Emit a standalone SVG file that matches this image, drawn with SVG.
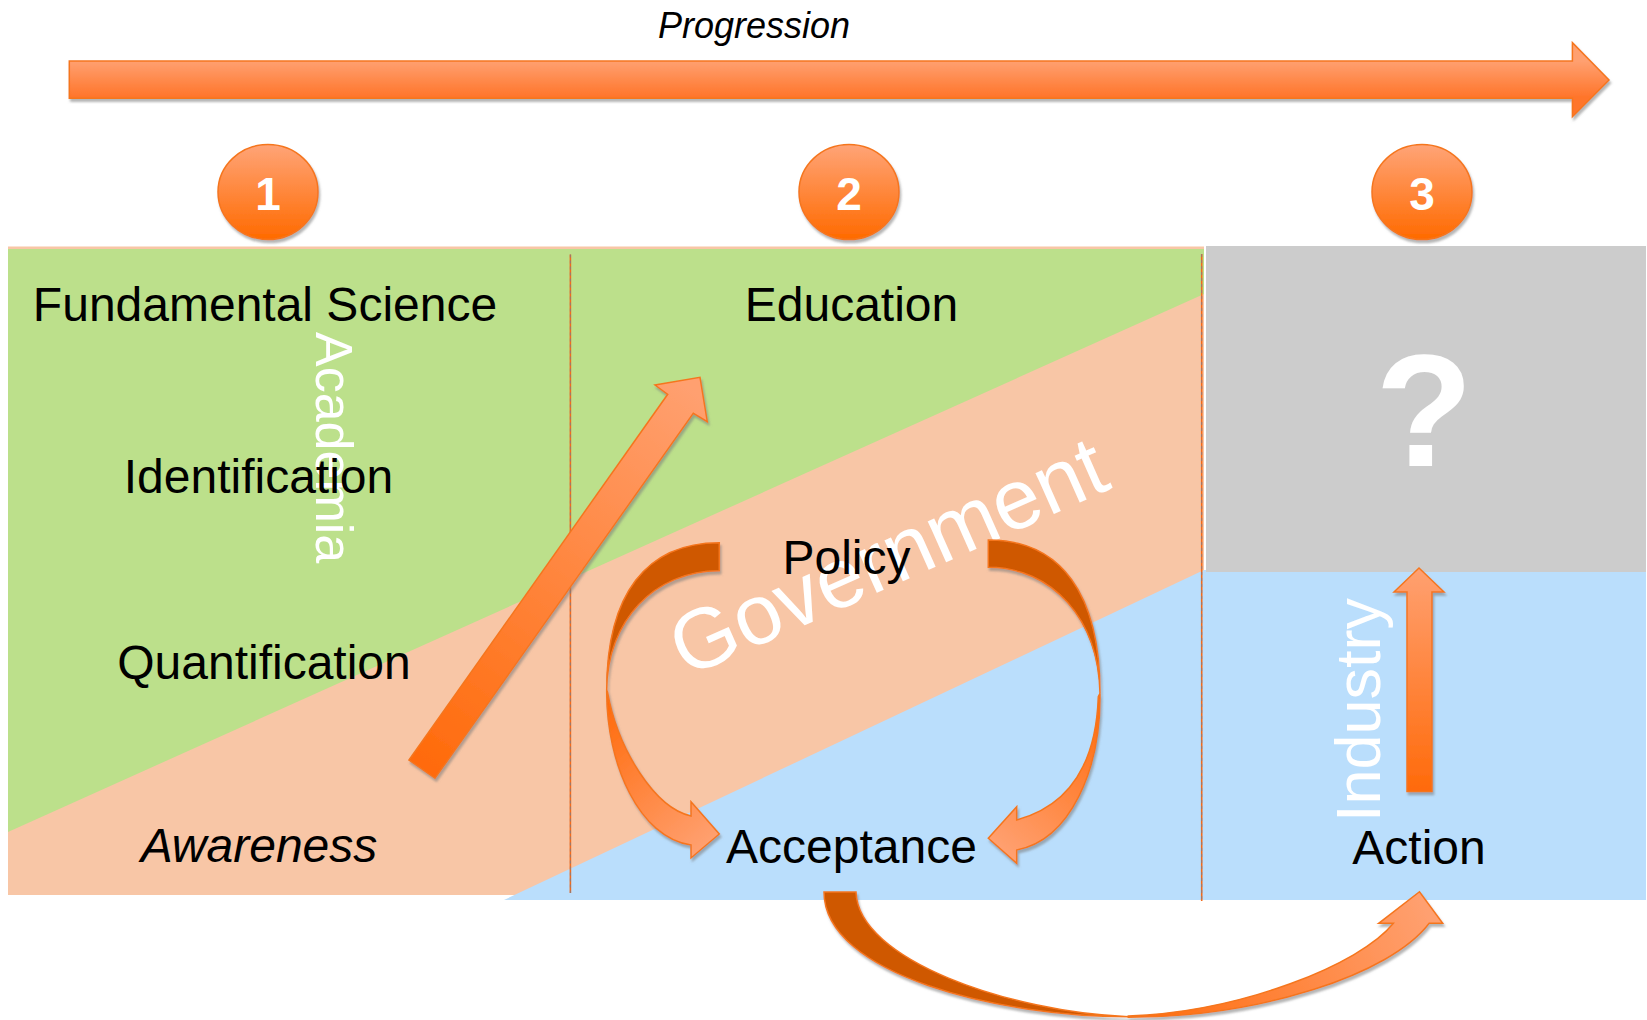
<svg xmlns="http://www.w3.org/2000/svg" width="1647" height="1020" viewBox="0 0 1647 1020">
  <defs>
    <style>
      text { font-family: "Liberation Sans", Arial, Helvetica, sans-serif; }
      .lbl { font-size: 48px; fill: #000; text-anchor: middle; }
      .wm { fill: #fff; }
      .num { font-size: 46px; font-weight: bold; fill: #fff; text-anchor: middle; }
      .arr { stroke: #F5761F; stroke-width: 1.5; stroke-linejoin: miter; }
      .back { fill: #CF5800; }
      .divider { stroke: #F26A1B; stroke-width: 1.6; }
      .divider-dash { stroke: #7d7d8c; stroke-width: 0.8; stroke-dasharray: 3 3; }
    </style>
    <filter id="shadow" x="-10%" y="-10%" width="130%" height="130%">
      <feDropShadow dx="1.5" dy="3" stdDeviation="1.2" flood-color="#7a7a7a" flood-opacity="0.55"/>
    </filter>
    <linearGradient id="gBar" gradientUnits="userSpaceOnUse" x1="0" y1="61" x2="0" y2="98">
      <stop offset="0" stop-color="#FFA070"/>
      <stop offset="1" stop-color="#FF7429"/>
    </linearGradient>
    <linearGradient id="gCircle" x1="0" y1="0" x2="0" y2="1">
      <stop offset="0" stop-color="#FFA477"/>
      <stop offset="1" stop-color="#FF6A00"/>
    </linearGradient>
    <linearGradient id="gDiag" gradientUnits="userSpaceOnUse" x1="422" y1="769" x2="695" y2="390">
      <stop offset="0" stop-color="#FF6A0A"/>
      <stop offset="1" stop-color="#FFA070"/>
    </linearGradient>
    <linearGradient id="gUp" gradientUnits="userSpaceOnUse" x1="0" y1="792" x2="0" y2="570">
      <stop offset="0" stop-color="#FF6A0A"/>
      <stop offset="1" stop-color="#FFA070"/>
    </linearGradient>
    <linearGradient id="gLeft" gradientUnits="userSpaceOnUse" x1="607" y1="700" x2="719" y2="835">
      <stop offset="0" stop-color="#FF6A0A"/>
      <stop offset="1" stop-color="#FFA070"/>
    </linearGradient>
    <linearGradient id="gRight" gradientUnits="userSpaceOnUse" x1="1100" y1="700" x2="988" y2="838">
      <stop offset="0" stop-color="#FF6A0A"/>
      <stop offset="1" stop-color="#FFA070"/>
    </linearGradient>
    <linearGradient id="gBottom" gradientUnits="userSpaceOnUse" x1="1128" y1="1017" x2="1420" y2="892">
      <stop offset="0" stop-color="#FF6A0A"/>
      <stop offset="1" stop-color="#FFA070"/>
    </linearGradient>
  </defs>

  <rect width="1647" height="1020" fill="#fff"/>

  <!-- sector backgrounds -->
  <g id="backgrounds">
    <rect x="8" y="246.5" width="1196" height="648.5" fill="#F8C6A6"/>
    <polygon points="8,249 1204,249 1204,294 8,832" fill="#BCE08B"/>
    <polygon points="504,900 1204,570 1646,570 1646,900" fill="#BADEFC"/>
    <rect x="1206" y="246" width="440" height="326" fill="#CCCCCC"/>
  </g>

  <!-- phase dividers -->
  <g id="dividers">
    <line class="divider" x1="570.4" y1="254.5" x2="570.4" y2="893"/>
    <line class="divider-dash" x1="570.4" y1="254.5" x2="570.4" y2="893"/>
    <line class="divider" x1="1201.7" y1="254" x2="1201.7" y2="901"/>
    <line class="divider-dash" x1="1201.7" y1="254" x2="1201.7" y2="901"/>
  </g>

  <!-- progression bar -->
  <g id="progression">
    <path d="M69.3,61 L1572.4,61 L1572.4,42.7 L1609,80 L1572.4,116.7 L1572.4,98.3 L69.3,98.3 Z" fill="url(#gBar)" class="arr" filter="url(#shadow)"/>
    <text x="754" y="38" font-size="36" font-style="italic" text-anchor="middle">Progression</text>
  </g>

  <!-- stage markers -->
  <g id="stage-1">
    <ellipse cx="268" cy="192" rx="50" ry="47.5" fill="url(#gCircle)" class="arr" filter="url(#shadow)"/>
    <text class="num" x="268" y="210">1</text>
  </g>
  <g id="stage-2">
    <ellipse cx="849" cy="192" rx="50" ry="47.5" fill="url(#gCircle)" class="arr" filter="url(#shadow)"/>
    <text class="num" x="849" y="210">2</text>
  </g>
  <g id="stage-3">
    <ellipse cx="1422" cy="192" rx="50" ry="47.5" fill="url(#gCircle)" class="arr" filter="url(#shadow)"/>
    <text class="num" x="1422" y="210">3</text>
  </g>

  <!-- sector watermarks -->
  <g id="sector-labels">
    <text class="wm" font-size="85" transform="translate(686,678) rotate(-24)">Government</text>
    <text class="wm" font-size="160" font-weight="bold" text-anchor="middle" x="1424" y="466">?</text>
    <text class="wm" font-size="52" transform="translate(316,332) rotate(90)">Academia</text>
    <text class="wm" font-size="63" transform="translate(1380,822) rotate(-90)">Industry</text>
  </g>

  <!-- stage 1 nodes -->
  <g id="node-fundamental-science"><text class="lbl" x="265" y="321">Fundamental Science</text></g>
  <g id="node-identification"><text class="lbl" x="258.5" y="493">Identification</text></g>
  <g id="node-quantification"><text class="lbl" x="264" y="679">Quantification</text></g>
  <g id="node-awareness"><text class="lbl" x="259" y="862" font-style="italic">Awareness</text></g>

  <!-- stage 2 nodes -->
  <g id="node-education"><text class="lbl" x="851.5" y="321">Education</text></g>
  <g id="node-policy"><text class="lbl" x="846.5" y="574">Policy</text></g>
  <g id="node-acceptance"><text class="lbl" x="851.5" y="863">Acceptance</text></g>

  <!-- stage 3 nodes -->
  <g id="node-action"><text class="lbl" x="1419" y="864">Action</text></g>

  <!-- connectors -->
  <g id="connectors" filter="url(#shadow)">
    <!-- awareness up to education -->
    <path d="M409,760 L667.7,394.3 L655,385 L700,377.3 L707.3,421.7 L693.3,413.3 L435,778.3 Z" fill="url(#gDiag)" class="arr"/>
    <!-- policy to acceptance, left loop -->
    <path d="M719.3,542.7 C646.1,542.7 606.7,594.3 606.7,690 C607,620.8 654.3,570.7 719.3,570.7 Z" class="back arr"/>
    <path d="M606.7,690 C606,765 640,838 691,845 L691,858 L719.3,834 L691,801.7 L691,816 C655,808 618,750 607.5,692 Z" fill="url(#gLeft)" class="arr"/>
    <!-- policy to acceptance, right loop -->
    <path d="M988.3,540 C1060.9,540 1100,593.7 1100,693.3 C1098.5,618.8 1052,567.3 988.3,567.3 Z" class="back arr"/>
    <path d="M1100,693.3 C1101,770 1070,840 1016.7,850 L1016.7,863.3 L988.3,838.3 L1016.7,806.7 L1016.7,820 C1068,806 1096,765 1098.3,696.7 Z" fill="url(#gRight)" class="arr"/>
    <!-- acceptance to action -->
    <path d="M824,892 C824,975 1000,1016.7 1128.3,1016.7 C1010,1012 858,960 856,892 Z" class="back arr"/>
    <path d="M1128.3,1017.3 C1260,1017 1390,975 1429.2,923.3 L1442.7,923.3 L1419.5,891.7 L1378.7,923.3 L1393.4,923.3 C1360,965 1240,1012 1128.3,1016 Z" fill="url(#gBottom)" class="arr"/>
    <!-- action up to the unknown -->
    <path d="M1407,791.6 L1407,592 L1394,592 L1419,568 L1444,592 L1432,592 L1432,791.6 Z" fill="url(#gUp)" class="arr"/>
  </g>
</svg>
